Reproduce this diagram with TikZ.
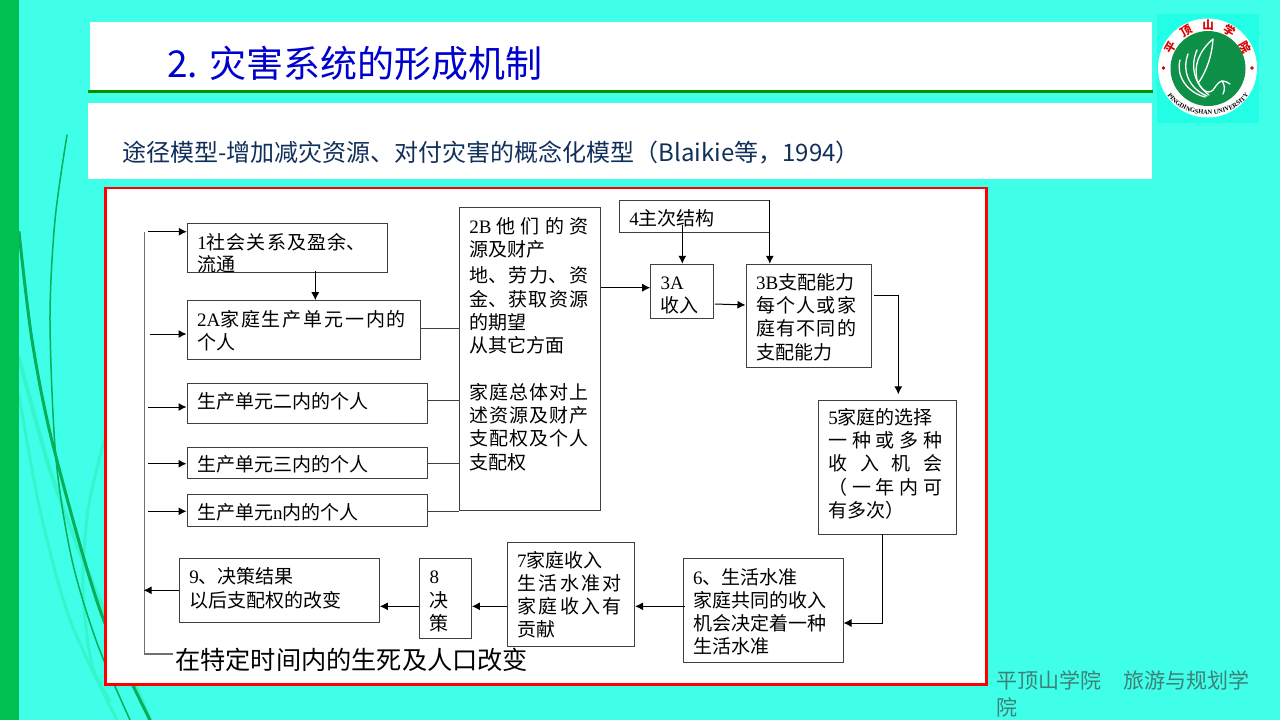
\documentclass[tikz,border=0pt]{standalone}
\usepackage{fontspec}
\setmainfont{Noto Sans CJK SC}
\newfontfamily\latinserif{Liberation Serif}
\usetikzlibrary{arrows.meta,decorations.text}
\definecolor{slideCyan}{HTML}{40FFE8}
\definecolor{logoCyan}{HTML}{22FFE6}
\definecolor{barGreen}{HTML}{00C050}
\definecolor{grassDark}{HTML}{06AE5A}
\definecolor{grassLight}{HTML}{34F5CC}
\definecolor{ruleGreen}{HTML}{009000}
\definecolor{titleBlue}{HTML}{0000CC}
\definecolor{subNavy}{HTML}{10305A}
\definecolor{frameRed}{HTML}{FF0000}
\definecolor{lineGrey}{HTML}{404040}
\definecolor{trunkGrey}{HTML}{707070}
\definecolor{footGrey}{HTML}{3E7F78}
\definecolor{logoGreen}{HTML}{0F9048}
\tikzset{
  >={Latex[length=8pt,width=8pt]},
  box/.style={draw=lineGrey, line width=1pt, fill=white, align=left,
              inner xsep=10pt, inner ysep=0pt, font=\fontsize{19}{23.3}\selectfont},
  dims/.style n args={3}{text width=#1pt, text height=#2pt, text depth=#3pt},
  flow/.style={->, draw=black, line width=1pt},
  link/.style={draw=lineGrey, line width=1pt},
  trunk/.style={draw=trunkGrey, line width=1.4pt},
  grass/.style={draw=grassDark, line cap=round},
  pale/.style={draw=grassLight, line cap=round},
  sealchar/.style={text=red!85!black, font=\fontsize{11.5}{12}\selectfont\bfseries, inner sep=0pt},
}
% serif figures and letters inside the boxes
\newcommand{\lat}[1]{{\latinserif #1}}
% one line stretched to the full width of its box
\newcommand{\wide}[2]{\makebox[#1pt][s]{\spaceskip=0pt plus 1fil\relax #2}}
\begin{document}
\begin{tikzpicture}[x=1pt,y=-1pt]
  \useasboundingbox (0,0) rectangle (1280,720);
  \fill[slideCyan] (0,0) rectangle (1280,720);
  % grass behind everything
  \draw[pale,line width=4pt] plot[smooth] coordinates {(19,358) (50,470) (85,565) (125,660) (150,720)};
  \draw[pale,line width=3pt] plot[smooth] coordinates {(19,395) (40,510) (70,620) (117,720)};
  \draw[pale,line width=3pt] plot[smooth] coordinates {(104,441) (88,510) (83,590) (92,665) (110,700)};
  \draw[grass,line width=1.5pt] plot[smooth] coordinates {(67,135) (55,220) (50,321) (56,459) (72,560) (97,643) (130,720)};
  \draw[grass,line width=3pt] plot[smooth] coordinates {(19,232) (32,340) (53,445) (100,610) (150,720)};
  \fill[barGreen] (0,0) rectangle (19,720);
  % header bands
  \fill[white] (90,22) rectangle (1152,91);
  \draw[ruleGreen,line width=3pt] (88,91.3) -- (1153,91.3);
  \fill[white] (88,103) rectangle (1152,179);
  \node[anchor=west,inner sep=0pt,text=titleBlue,font=\fontsize{37}{37}\selectfont] (title) at (167,63) {2. 灾害系统的形成机制};
  \node[anchor=west,inner sep=0pt,text=subNavy,font=\fontsize{24}{26}\selectfont] (subtitle) at (122,152) {途径模型-增加减灾资源、对付灾害的概念化模型（Blaikie等，1994）};
  % logo
  \fill[logoCyan] (1157,14) rectangle (1259,123);
  \fill[white] (1207.5,68) circle (49.5);
  \fill[logoGreen] (1208,68.5) circle (37.5);
  \foreach \ch/\ang in {平/151,顶/120,山/90,学/60,院/29}{
    \node[sealchar,rotate=\ang-90] (seal\ang) at ({1208+43*cos(\ang)},{68-43*sin(\ang)}) {\ch};
  }
  \fill[red!80!black] (1163.5,68) circle (1.8) (1252,68) circle (1.8);
  \path[decorate,decoration={text along path,text align=center,
      text={|\fontsize{6.5}{7}\latinserif\bfseries|PINGDINGSHAN UNIVERSITY}}]
    (1166,93) .. controls (1183,122) and (1233,122) .. (1250,93);
  \draw[white,line width=1.3pt,line cap=round,line join=round,fill=logoGreen]
    (1213,39) .. controls (1198,52) and (1194,66) .. (1197,80) .. controls (1201,90) and (1208,95) .. (1213,90)
    .. controls (1216,86) and (1218,82) .. (1222,81) .. controls (1226,81) and (1228,83) .. (1230,84);
  \draw[white,line width=1.3pt,line cap=round]
    (1222,81) .. controls (1225,85) and (1225,90) .. (1223,94)
    (1180,60) .. controls (1176,75) and (1186,92) .. (1205,97)
    (1188,54) .. controls (1182,70) and (1188,88) .. (1207,96)
    (1197,50) .. controls (1190,66) and (1194,84) .. (1209,95)
    (1213,39) .. controls (1212,55) and (1207,70) .. (1199,82);
  % frame
  \draw[frameRed,line width=2.6pt,fill=white] (105.3,188) rectangle (986.5,684.5);
  % diagram boxes
  \node[box,dims={180}{25.7}{23.3}] (social) at (287.3,247.8)
    {\wide{168}{\lat{1}社 会 关 系 及 盈 余、}\\[-1.3pt]流通};
  \node[box,dims={213}{25.3}{33.3}] (unitA) at (303.5,330)
    {\wide{209}{\lat{2A}家 庭 生 产 单 元 一 内 的}\\个人};
  \node[box,dims={220}{25}{14.6}] (unitB) at (307,403.5) {生产单元二内的个人};
  \node[box,dims={220}{24}{7.7}] (unitC) at (307,463.1) {生产单元三内的个人};
  \node[box,dims={220}{24.3}{7}] (unitN) at (307,510.6) {生产单元\lat{n}内的个人};
  \node[box,dims={121}{26.4}{277.3}] (assets) at (529.8,359.1)
    {\wide{119}{\lat{2B} 他 们 的 资}\\源及财产\\[2.5pt]\wide{119}{地、 劳 力、 资}\\\wide{119}{金、 获 取 资 源}\\的期望\\从其它方面\\[23.3pt]
     \wide{119}{家 庭 总 体 对 上}\\\wide{119}{述 资 源 及 财 产}\\\wide{119}{支 配 权 及 个 人}\\支配权};
  \node[box,dims={130}{25}{7.7}] (structure) at (694.3,216.6) {\lat{4}主次结构};
  \node[box,dims={43}{25}{29.7}] (income) at (682.2,291.6) {\lat{3A}\\收入};
  \node[box,dims={105}{25}{78}] (power) at (808.5,315.8)
    {\lat{3B}支配能力\\\wide{100}{每 个 人 或 家}\\\wide{100}{庭 有 不 同 的}\\支配能力};
  \node[box,dims={117.7}{24.3}{110}] (choice) at (887.2,467.2)
    {\lat{5}家庭的选择\\\wide{114}{一 种 或 多 种}\\\wide{114}{收 入 机 会}\\\wide{114}{（ 一 年 内 可}\\有多次）};
  \node[box,dims={140}{26}{78}] (living) at (763,610)
    {\lat{6}、生活水准\\家庭共同的收入\\机会决定着一种\\生活水准};
  \node[box,dims={107.6}{24.3}{79.7}] (family) at (570.8,594.7)
    {\lat{7}家庭收入\\\wide{105}{生 活 水 准 对}\\\wide{105}{家 庭 收 入 有}\\贡献};
  \node[box,dims={31.8}{25}{55}] (decide) at (445.5,598.7) {\lat{8}\\决\\策};
  \node[box,dims={180}{25}{38.6}] (result) at (279.3,590.5)
    {\lat{9}、决策结果\\以后支配权的改变};
  \node[anchor=west,inner sep=0pt,font=\fontsize{25.2}{25}\selectfont] (change) at (175,660) {在特定时间内的生死及人口改变};
  % coordinates for the free ends
  \coordinate (trunkTop) at (144.7,231.7);
  \coordinate (trunkFoot) at (173,654);
  % left trunk
  \draw[trunk] (trunkTop) |- (trunkFoot);
  \foreach \n/\y/\x in {social/231.7/148,unitA/334/150,unitB/407/148,unitC/463.7/148,unitN/511.3/148}{
    \draw[flow] (\x,\y) -- (\n.west |- 0,\y);
  }
  % links into 2B
  \draw[link] (unitA.east |- 0,328.3) -- (assets.west |- 0,328.3);
  \draw[link] (unitB.east |- 0,400) -- (assets.west |- 0,400);
  \draw[link] (unitC.east |- 0,463.3) -- (assets.west |- 0,463.3);
  \draw[link] (unitN.east |- 0,511) -- (assets.west |- 0,511);
  \draw[flow] (315.3,271) -- (unitA.north -| 315.3,0);
  \draw[flow] (assets.east |- 0,287.7) -- (income.west |- 0,287.7);
  \draw[flow] (682.3,224.7) -- (income.north -| 682.3,0);
  \draw[flow] (structure.north east) -- (power.north -| structure.north east);
  \draw[flow] (715,304) -- (power.west |- 0,305);
  \draw[flow] (873.7,295.3) -- (898.3,295.3) -- (898.3,394.3);
  \draw[flow] (882,534.3) -- (882,623) -- (living.east |- 0,623);
  \draw[flow] (685,606.3) -- (family.east |- 0,606.3);
  \draw[flow] (family.west |- 0,606.3) -- (decide.east |- 0,606.3);
  \draw[flow] (decide.west |- 0,606.3) -- (result.east |- 0,606.3);
  \draw[flow] (result.west |- 0,590.3) -- (143.6,590.3);
  % footer
  \node[anchor=north west,inner sep=0pt,align=left,text=footGrey,
        font=\fontsize{21}{27}\selectfont] (footer) at (996,670) {平顶山学院\hspace{22pt}旅游与规划学\\院};
\end{tikzpicture}
\end{document}
